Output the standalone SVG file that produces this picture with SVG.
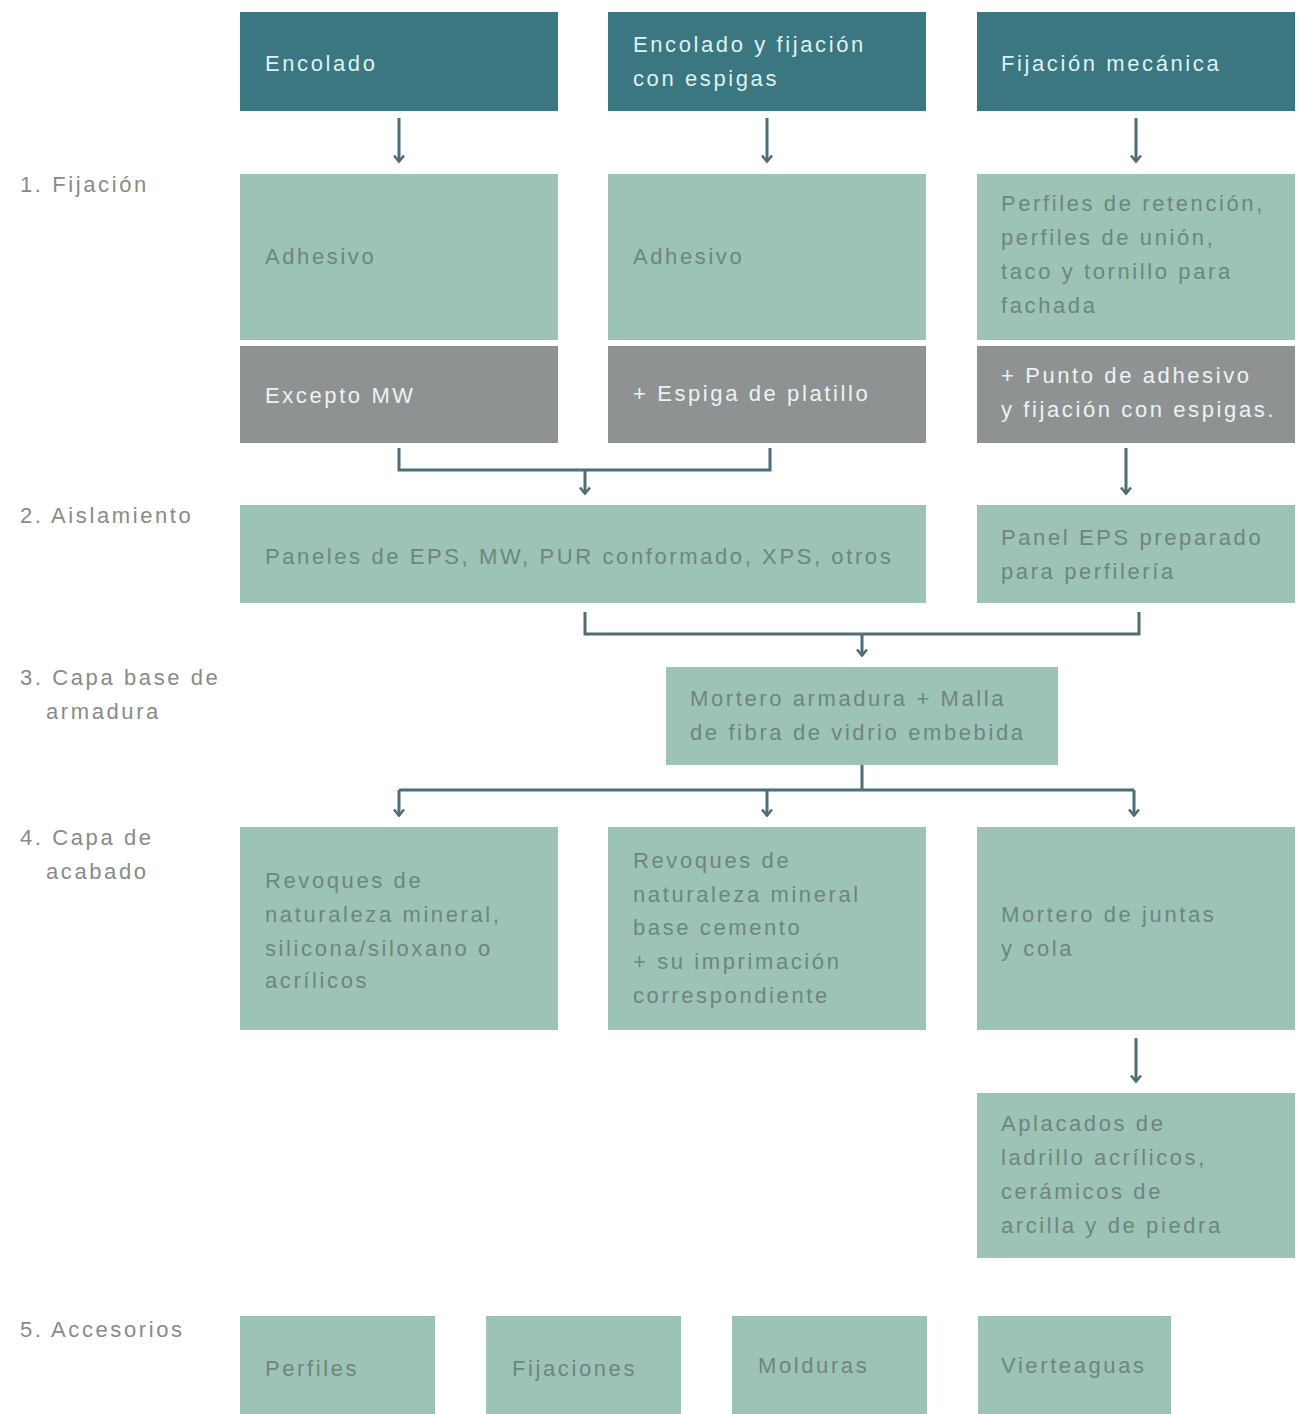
<svg xmlns="http://www.w3.org/2000/svg" width="1297" height="1414" viewBox="0 0 1297 1414">
<defs>
<style>
text{font-family:"Liberation Sans",Arial,sans-serif;font-size:22px;letter-spacing:2.6px}
.hd{fill:#3b7781}
.lt{fill:#9dc3b6}
.gy{fill:#8e9292}
.th{fill:#dff2f2}
.tl{fill:#6f8580}
.tg{fill:#eef2f2}
.lab{fill:#8a8a8a}
.cn{fill:none;stroke:#4b6f74;stroke-width:3}
</style>
<marker id="ah" viewBox="0 0 10 12" refX="8.5" refY="6" markerWidth="10" markerHeight="12" markerUnits="userSpaceOnUse" orient="auto">
<path d="M2,1 L8,6 L2,11" fill="none" stroke="#4b6f74" stroke-width="2.6"/>
</marker>
</defs>
<rect width="1297" height="1414" fill="#ffffff"/>

<g id="labels">
<text class="lab" x="20" y="192">1. Fijación</text>
<text class="lab" x="20" y="523">2. Aislamiento</text>
<text class="lab" x="20" y="685">3. Capa base de</text>
<text class="lab" x="46" y="719">armadura</text>
<text class="lab" x="20" y="845">4. Capa de</text>
<text class="lab" x="46" y="879">acabado</text>
<text class="lab" x="20" y="1337">5. Accesorios</text>
</g>

<g id="connectors">
<line class="cn" x1="399" y1="118" x2="399" y2="162" marker-end="url(#ah)"/>
<line class="cn" x1="767" y1="118" x2="767" y2="162" marker-end="url(#ah)"/>
<line class="cn" x1="1136" y1="118" x2="1136" y2="162" marker-end="url(#ah)"/>
<polyline class="cn" points="399,448 399,470 770,470 770,448"/>
<line class="cn" x1="585" y1="470" x2="585" y2="494" marker-end="url(#ah)"/>
<line class="cn" x1="1126" y1="448" x2="1126" y2="494" marker-end="url(#ah)"/>
<polyline class="cn" points="585,612 585,634 1139,634 1139,612"/>
<line class="cn" x1="862" y1="634" x2="862" y2="656" marker-end="url(#ah)"/>
<line class="cn" x1="862" y1="765" x2="862" y2="790"/>
<line class="cn" x1="399" y1="790" x2="1134" y2="790"/>
<line class="cn" x1="399" y1="790" x2="399" y2="816" marker-end="url(#ah)"/>
<line class="cn" x1="767" y1="790" x2="767" y2="816" marker-end="url(#ah)"/>
<line class="cn" x1="1134" y1="790" x2="1134" y2="816" marker-end="url(#ah)"/>
<line class="cn" x1="1136" y1="1038" x2="1136" y2="1082" marker-end="url(#ah)"/>
</g>

<g id="n-encolado"><rect class="hd" x="240" y="12" width="318" height="99"/><text class="th" x="265" y="71">Encolado</text></g>
<g id="n-encolado-espigas"><rect class="hd" x="608" y="12" width="318" height="99"/><text class="th" x="633" y="52">Encolado y fijación</text><text class="th" x="633" y="86">con espigas</text></g>
<g id="n-mecanica"><rect class="hd" x="977" y="12" width="318" height="99"/><text class="th" x="1001" y="71">Fijación mecánica</text></g>

<g id="n-adhesivo1"><rect class="lt" x="240" y="174" width="318" height="166"/><text class="tl" x="265" y="264">Adhesivo</text></g>
<g id="n-adhesivo2"><rect class="lt" x="608" y="174" width="318" height="166"/><text class="tl" x="633" y="264">Adhesivo</text></g>
<g id="n-perfiles-ret"><rect class="lt" x="977" y="174" width="318" height="166"/><text class="tl" x="1001" y="211">Perfiles de retención,</text><text class="tl" x="1001" y="245">perfiles de unión,</text><text class="tl" x="1001" y="279">taco y tornillo para</text><text class="tl" x="1001" y="313">fachada</text></g>

<g id="n-excepto"><rect class="gy" x="240" y="346" width="318" height="97"/><text class="tg" x="265" y="403">Excepto MW</text></g>
<g id="n-espiga"><rect class="gy" x="608" y="346" width="318" height="97"/><text class="tg" x="633" y="401">+ Espiga de platillo</text></g>
<g id="n-punto"><rect class="gy" x="977" y="346" width="318" height="97"/><text class="tg" x="1001" y="383">+ Punto de adhesivo</text><text class="tg" x="1001" y="417">y fijación con espigas.</text></g>

<g id="n-paneles"><rect class="lt" x="240" y="505" width="686" height="98"/><text class="tl" x="265" y="564">Paneles de EPS, MW, PUR conformado, XPS, otros</text></g>
<g id="n-panel-eps"><rect class="lt" x="977" y="505" width="318" height="98"/><text class="tl" x="1001" y="545">Panel EPS preparado</text><text class="tl" x="1001" y="579">para perfilería</text></g>

<g id="n-mortero"><rect class="lt" x="666" y="667" width="392" height="98"/><text class="tl" x="690" y="706">Mortero armadura + Malla</text><text class="tl" x="690" y="740">de fibra de vidrio embebida</text></g>

<g id="n-revoques1"><rect class="lt" x="240" y="827" width="318" height="203"/><text class="tl" x="265" y="888">Revoques de</text><text class="tl" x="265" y="922">naturaleza mineral,</text><text class="tl" x="265" y="956">silicona/siloxano o</text><text class="tl" x="265" y="988">acrílicos</text></g>
<g id="n-revoques2"><rect class="lt" x="608" y="827" width="318" height="203"/><text class="tl" x="633" y="868">Revoques de</text><text class="tl" x="633" y="902">naturaleza mineral</text><text class="tl" x="633" y="935">base cemento</text><text class="tl" x="633" y="969">+ su imprimación</text><text class="tl" x="633" y="1003">correspondiente</text></g>
<g id="n-juntas"><rect class="lt" x="977" y="827" width="318" height="203"/><text class="tl" x="1001" y="922">Mortero de juntas</text><text class="tl" x="1001" y="956">y cola</text></g>

<g id="n-aplacados"><rect class="lt" x="977" y="1093" width="318" height="165"/><text class="tl" x="1001" y="1131">Aplacados de</text><text class="tl" x="1001" y="1165">ladrillo acrílicos,</text><text class="tl" x="1001" y="1199">cerámicos de</text><text class="tl" x="1001" y="1233">arcilla y de piedra</text></g>

<g id="n-perfiles"><rect class="lt" x="240" y="1316" width="195" height="98"/><text class="tl" x="265" y="1376">Perfiles</text></g>
<g id="n-fijaciones"><rect class="lt" x="486" y="1316" width="195" height="98"/><text class="tl" x="512" y="1376">Fijaciones</text></g>
<g id="n-molduras"><rect class="lt" x="732" y="1316" width="195" height="98"/><text class="tl" x="758" y="1373">Molduras</text></g>
<g id="n-vierteaguas"><rect class="lt" x="978" y="1316" width="193" height="98"/><text class="tl" x="1001" y="1373">Vierteaguas</text></g>
</svg>
